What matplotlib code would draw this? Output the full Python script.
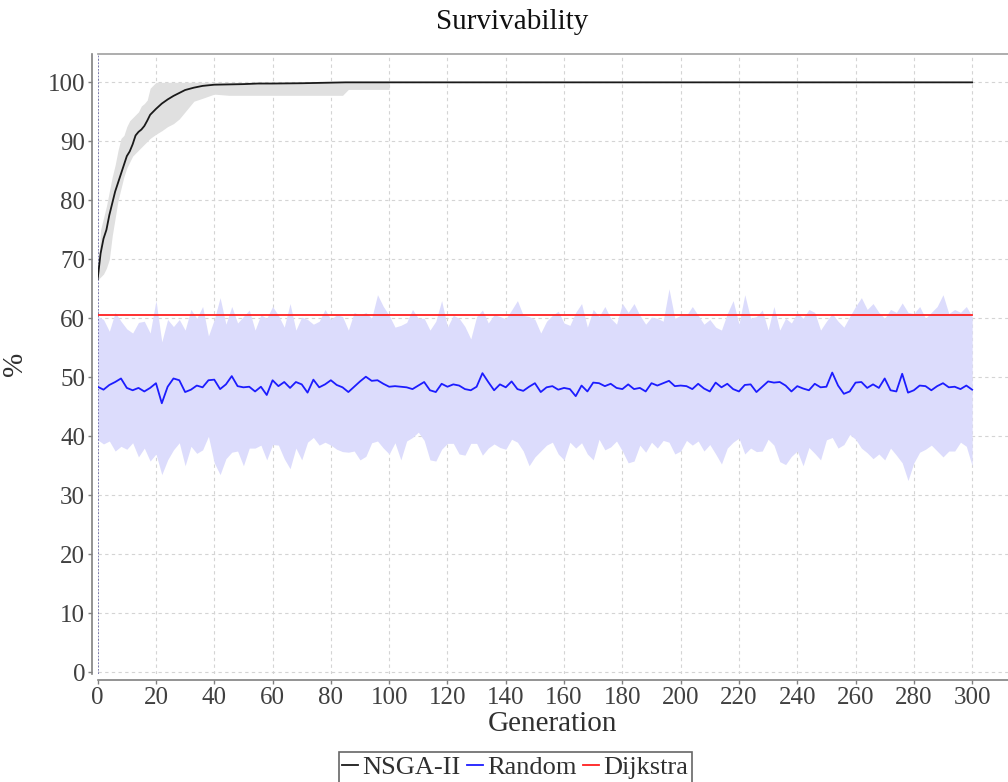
"""Survivability over generations: NSGA-II vs Random vs Dijkstra."""
import matplotlib

matplotlib.use("Agg")
import matplotlib.pyplot as plt
import numpy as np

plt.rcParams["font.family"] = ["Liberation Serif", "DejaVu Serif"]

# NSGA-II mean curve (generation, %)
nsga_gen = [0, 1, 2, 3, 4, 5, 6, 7, 8, 9, 10, 11, 12, 13, 14, 15, 16, 17, 18,
            20, 22, 24, 26, 28, 30, 33, 36, 40, 45, 50, 55, 60, 70, 85, 100, 300]
nsga_mean = [66.7, 71.0, 73.5, 75.0, 77.5, 79.5, 81.5, 83.0, 84.5, 86.0, 87.5,
             88.3, 89.5, 91.0, 91.6, 92.0, 92.6, 93.5, 94.5, 95.5, 96.4, 97.1,
             97.7, 98.2, 98.7, 99.1, 99.4, 99.6, 99.65, 99.7, 99.8, 99.8,
             99.85, 100.0, 100.0, 100.0]

# NSGA-II min/max band (only drawn up to generation 100)
nsga_band_gen = [0, 1, 2, 3, 4, 5, 6, 7, 8, 9, 10, 11, 12, 13, 14, 15, 16, 17,
                 18, 20, 22, 24, 26, 28, 30, 33, 36, 40, 45, 60, 84, 86, 100]
nsga_upper = [67.0, 75.0, 77.0, 79.0, 81.5, 84.0, 86.0, 88.5, 90.5, 91.0, 92.5,
              93.5, 94.0, 94.5, 95.0, 96.0, 96.4, 97.0, 99.0, 100.0, 100.0,
              100.0, 100.0, 100.0, 100.0, 100.0, 100.0, 100.0, 100.0, 100.0,
              100.0, 100.0, 100.0]
nsga_lower = [66.5, 67.0, 67.5, 68.5, 70.0, 74.0, 77.0, 80.0, 82.0, 84.0, 85.5,
              86.5, 87.5, 88.0, 88.5, 89.0, 89.5, 90.0, 90.5, 91.2, 91.8, 92.5,
              93.0, 93.8, 95.0, 96.8, 97.3, 98.0, 97.8, 97.8, 97.8, 98.8, 98.8]

# Random search: every second generation 0..300
rand_gen = list(range(0, 301, 2))
rand_mean = [
    48.4, 47.9, 48.7, 49.2, 49.8, 48.2, 47.8, 48.2, 47.6, 48.2,
    49.0, 45.6, 48.4, 49.8, 49.5, 47.5, 47.9, 48.6, 48.3, 49.5,
    49.6, 48.0, 48.8, 50.2, 48.5, 48.3,
    48.4, 47.6, 48.4, 47.0, 49.5, 48.5, 49.2, 48.2, 49.2, 48.8,
    47.4, 49.6, 48.3, 48.8, 49.5, 48.7, 48.3, 47.5, 48.4, 49.3,
    50.1, 49.4, 49.5, 48.9, 48.4,
    48.5, 48.4, 48.3, 48.0, 48.6, 49.2, 47.8, 47.5, 48.9, 48.4,
    48.8, 48.6, 48.0, 47.8, 48.4, 50.7, 49.2, 47.8, 48.8, 48.3,
    49.3, 48.0, 47.7, 48.4, 49.0,
    47.5, 48.3, 48.5, 47.9, 48.2, 48.0, 46.8, 48.6, 47.6, 49.1,
    49.0, 48.5, 48.9, 48.2, 48.0, 48.8, 48.0, 48.2, 47.6, 49.0,
    48.6, 49.0, 49.4, 48.5, 48.6,
    48.5, 48.0, 48.9, 48.1, 47.6, 49.1, 48.3, 48.9, 48.0, 47.6,
    48.7, 48.8, 47.5, 48.4, 49.3, 49.1, 49.2, 48.6, 47.6, 48.5,
    48.1, 47.8, 48.9, 48.3,
    48.4, 50.8, 48.6, 47.2, 47.6, 49.1, 49.2, 48.2, 48.8, 48.2,
    49.8, 47.8, 47.6, 50.6, 47.4, 47.8, 48.6, 48.5, 47.8, 48.5,
    49.0, 48.3, 48.4, 48.0, 48.6, 47.9,
]
rand_upper = [
    60.3, 59.8, 57.8, 61.0, 59.5, 58.2, 57.5, 59.3, 59.5, 57.5,
    63.0, 56.0, 59.8, 58.6, 59.8, 58.0, 61.5, 60.0, 62.0, 57.0,
    59.8, 63.5, 59.0, 62.0, 59.2, 60.3,
    61.4, 58.0, 60.6, 60.0, 62.0, 60.5, 58.5, 62.5, 58.0, 60.2,
    59.8, 59.0, 59.5, 61.5, 59.8, 60.6, 60.3, 58.0, 61.0, 60.5,
    61.0, 60.0, 64.0, 62.0, 60.5,
    58.5, 58.8, 59.3, 61.5, 60.0, 60.0, 58.0, 59.5, 63.0, 58.5,
    60.5, 60.0, 58.6, 56.5, 60.3, 61.4, 59.2, 60.6, 60.3, 59.9,
    61.4, 63.0, 60.5, 60.3, 59.8,
    57.5, 59.5, 60.5, 61.2, 59.2, 58.8, 61.0, 62.5, 58.5, 61.5,
    60.3, 62.0, 60.0, 59.0, 62.5, 61.0, 62.5, 60.5, 59.0, 60.2,
    60.0, 59.5, 65.0, 60.0, 60.5,
    60.5, 62.0, 60.5, 59.0, 59.8, 58.5, 58.0, 60.8, 63.0, 59.0,
    64.0, 60.0, 60.3, 61.4, 58.0, 62.0, 58.0, 60.0, 59.2, 61.0,
    60.0, 61.5, 61.0, 58.0,
    59.5, 60.8, 59.5, 58.5, 60.3, 62.0, 63.5, 61.5, 62.5, 61.0,
    60.0, 61.5, 61.0, 62.6, 61.0, 60.8, 62.0, 60.0, 61.0, 62.0,
    64.0, 60.8, 61.5, 61.0, 62.0, 60.3,
]
rand_lower = [
    39.4, 38.7, 39.2, 37.5, 38.3, 37.8, 38.9, 36.5, 38.0, 35.8,
    37.0, 33.5, 36.0, 37.7, 38.9, 35.0, 38.3, 37.1, 37.7, 40.0,
    35.5, 33.5, 36.2, 37.3, 37.5, 35.0,
    38.0, 38.0, 38.5, 36.0, 38.6, 38.5, 36.2, 34.5, 38.0, 36.0,
    39.0, 39.8, 38.5, 39.0, 38.5, 37.8, 37.4, 37.3, 37.5, 36.0,
    36.6, 38.9, 39.2, 38.0, 37.0,
    38.9, 36.0, 39.2, 39.8, 40.7, 39.3, 36.0, 35.8, 37.8, 38.8,
    38.8, 37.0, 36.8, 38.8, 38.8, 36.8, 38.0, 38.7, 38.1, 37.8,
    39.5, 39.0, 37.5, 35.0, 36.5,
    37.5, 38.5, 39.0, 37.0, 36.0, 39.0, 38.0, 38.9, 37.0, 36.0,
    39.5, 37.7, 38.2, 39.2, 37.5, 35.5, 35.8, 38.5, 37.3, 39.0,
    38.0, 39.3, 39.0, 37.0, 37.5,
    39.3, 38.5, 39.2, 37.5, 38.6, 37.0, 35.3, 38.0, 39.0, 39.7,
    37.0, 38.0, 37.4, 37.5, 39.5, 38.5, 35.7, 35.2, 36.6, 37.5,
    35.0, 38.1, 37.1, 36.0,
    39.4, 39.8, 38.0, 38.6, 40.3, 39.5, 38.0, 37.2, 36.2, 37.0,
    36.0, 38.0, 36.8, 35.5, 32.5, 35.5, 37.3, 37.8, 38.5, 37.5,
    36.5, 37.5, 37.5, 39.0, 38.3, 35.0,
]

dijkstra_gen = [0, 300]
dijkstra_val = [60.6, 60.6]

fig = plt.figure(figsize=(10.08, 7.82), dpi=100)
ax = fig.add_axes([0.0969, 0.1381, 0.9031, 0.7928])

ax.fill_between(rand_gen, rand_lower, rand_upper, color="#dcdcfc", lw=0, zorder=1)
ax.fill_between(nsga_band_gen, nsga_lower, nsga_upper, color="#e0e0e0", lw=0, zorder=1)
ax.axvline(0, color="#6a6aa8", lw=1.2, ls=(0, (1, 1)), zorder=2)

l1, = ax.plot(nsga_gen, nsga_mean, color="#1a1a1a", lw=1.3, zorder=4, label="NSGA-II")
l2, = ax.plot(rand_gen, rand_mean, color="#1c1cff", lw=1.3, zorder=4, label="Random")
l3, = ax.plot(dijkstra_gen, dijkstra_val, color="#ff2020", lw=1.3, zorder=4, label="Dijkstra")

ax.set_xlim(0, 312.3)
ax.set_ylim(-0.3, 104.8)
ax.set_xticks(np.arange(0, 301, 20))
ax.set_yticks(np.arange(0, 101, 10))
ax.grid(True, color="#d4d4d4", ls=(0, (3, 3)), lw=0.8)
ax.set_axisbelow(True)

for side in ("left", "bottom"):
    ax.spines[side].set_position(("outward", 4))
    ax.spines[side].set_color("#808080")
    ax.spines[side].set_linewidth(1.2)
ax.spines["top"].set_color("#a0a0a0")
ax.spines["top"].set_linewidth(1.2)
ax.spines["right"].set_visible(False)

ax.tick_params(axis="both", colors="#808080", labelcolor="#404040",
               labelsize=18, length=3, width=1, pad=2)

ax.set_xlabel("Generation", fontsize=21, color="#303030", labelpad=2)
ax.set_ylabel("%", fontsize=21, color="#303030", labelpad=14)
fig.text(0.508, 0.972, "Survivability", ha="center", va="center",
         fontsize=21, color="#101010")

leg = fig.legend(handles=[l1, l2, l3], loc="upper center",
                 bbox_to_anchor=(0.511, 0.0384), ncol=3, fontsize=19,
                 frameon=True, fancybox=False, handlelength=0.6,
                 handletextpad=0.15, columnspacing=0.25, borderpad=0.15,
                 borderaxespad=0)
leg.get_frame().set_edgecolor("#404040")
leg.get_frame().set_linewidth(1.2)
for t in leg.get_texts():
    t.set_color("#303030")

fig.savefig("out.png", dpi=100)
